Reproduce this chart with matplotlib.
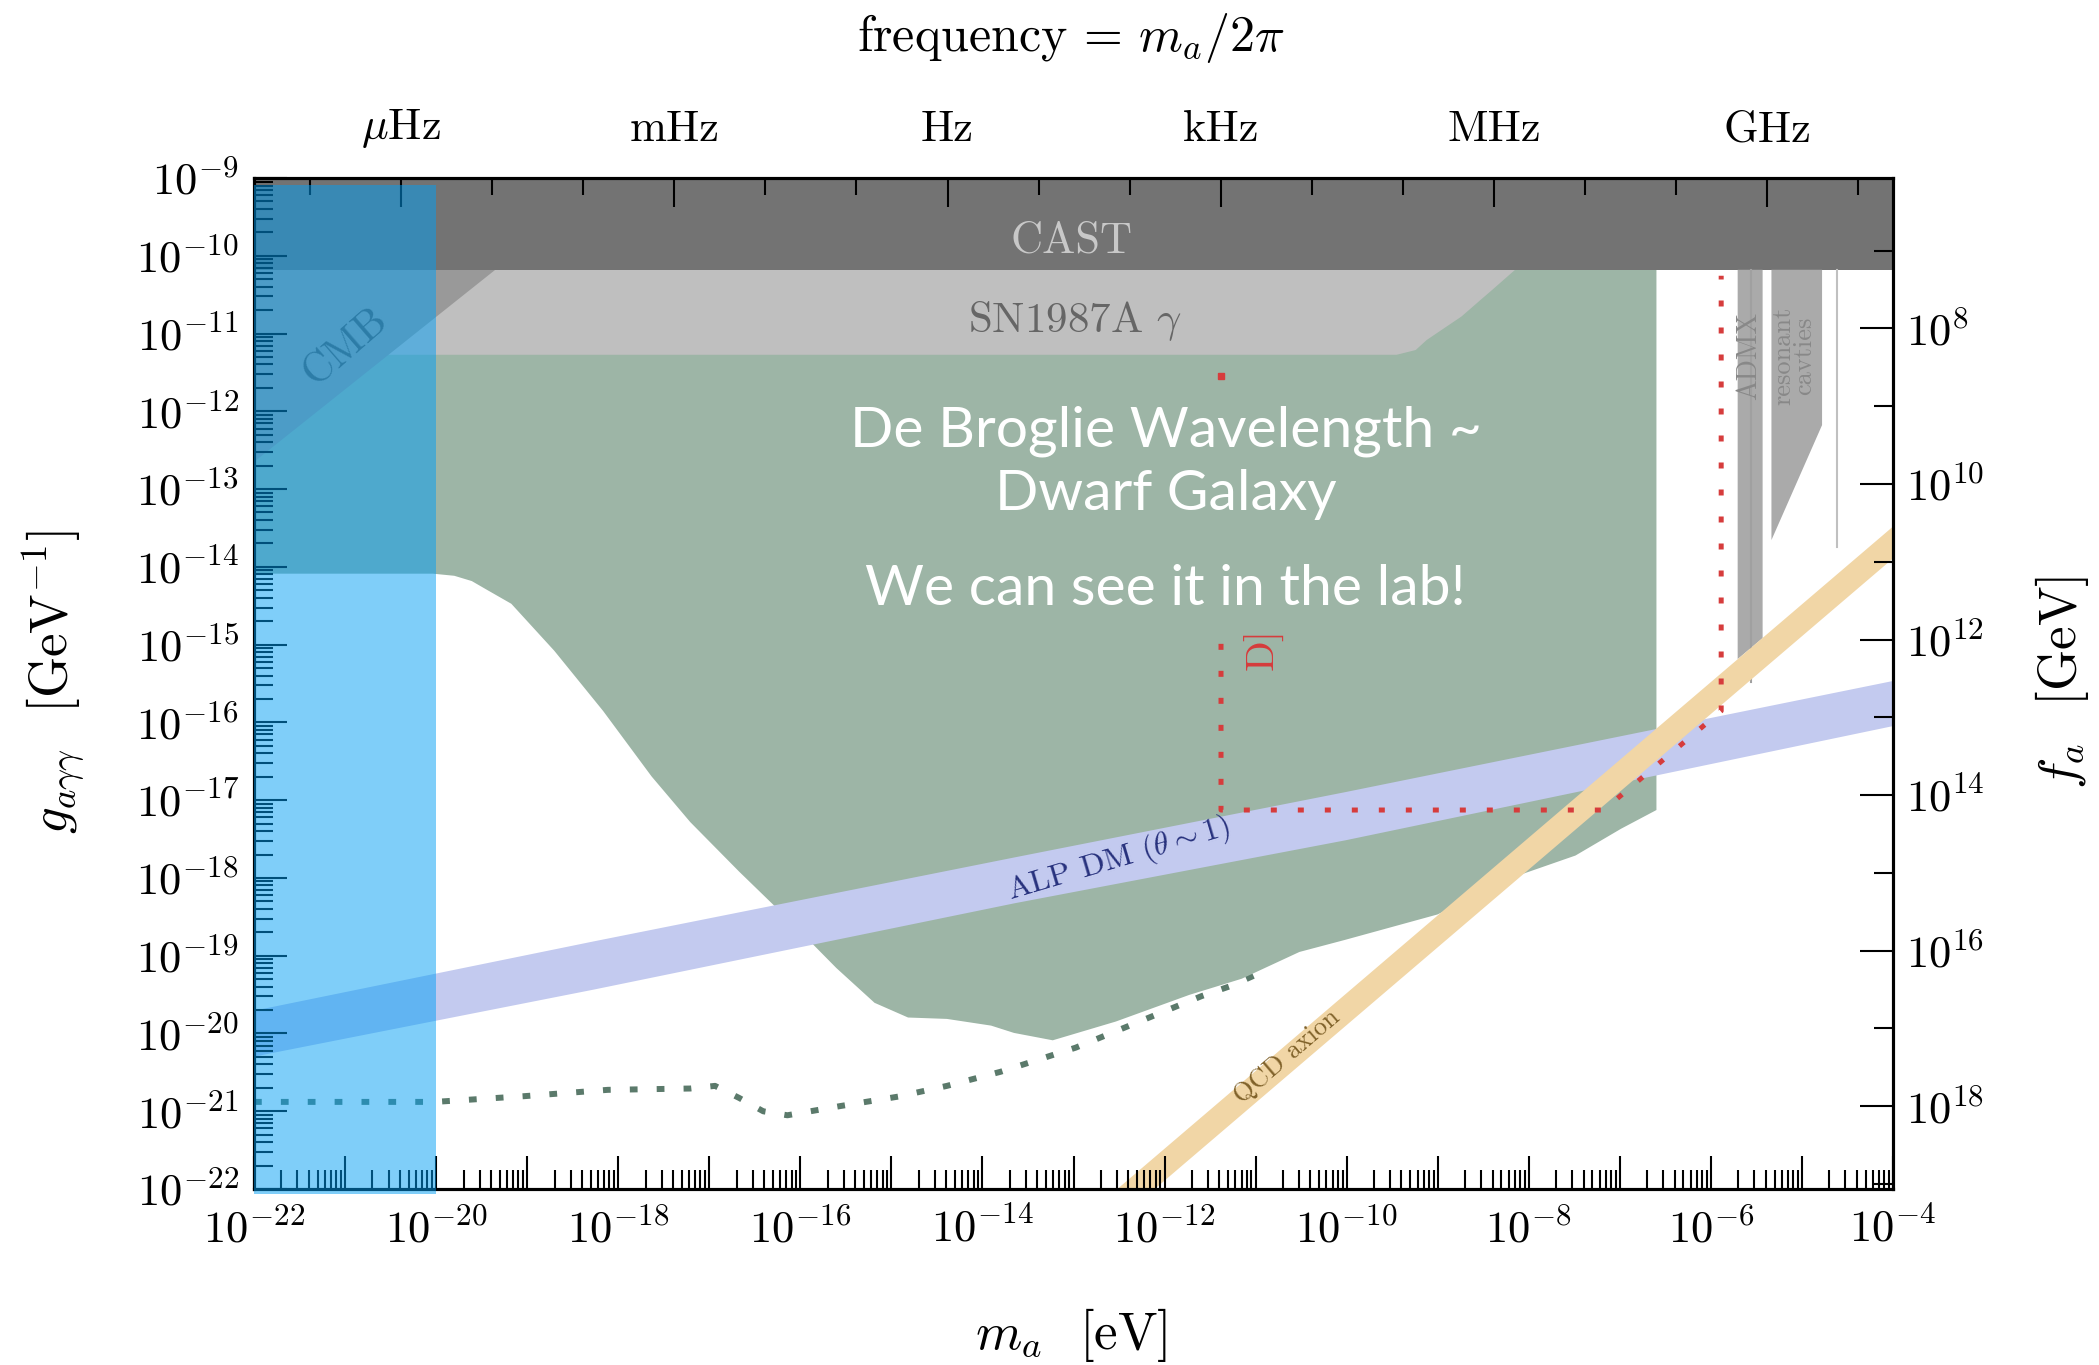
import numpy as np
import matplotlib
matplotlib.use("Agg")
import matplotlib.pyplot as plt
from matplotlib.patches import Rectangle
from matplotlib.transforms import blended_transform_factory
from matplotlib.ticker import FixedLocator, LogLocator, NullFormatter

plt.rcParams['font.family'] = 'serif'
plt.rcParams['font.serif'] = ['cmr10']
plt.rcParams['mathtext.fontset'] = 'cm'
plt.rcParams['axes.formatter.use_mathtext'] = True

# all values are log10 (m_a in eV, g in GeV^-1)
cast_logg = -10.18

sn_logm = [-22, -9.451, -9.242, -9.121, -8.738, -8.525, -8.40, -8.15]
sn_logg = [-11.273, -11.273, -11.212, -11.083, -10.78, -10.563, -10.437, -10.18]

cmb_logm = [-22, -19.35]
cmb_logg = [-12.65, -10.18]

# lower edge of the dwarf galaxy region, right to left
dg_logm = [-6.598, -6.987, -7.487, -8.120, -9.003, -10.019, -10.519, -11.152,
           -11.726, -12.536, -13.228, -13.654, -13.905, -14.390, -14.817,
           -15.185, -15.605, -16.142, -16.672, -17.209, -17.633, -18.166,
           -18.703, -19.174, -19.450, -19.608, -19.800, -20.034, -22.0]
dg_logg = [-17.127, -17.368, -17.712, -17.970, -18.470, -18.797, -18.952, -19.296,
           -19.503, -19.847, -20.088, -19.993, -19.899, -19.813, -19.795,
           -19.606, -19.158, -18.521, -17.919, -17.282, -16.696, -15.853,
           -15.078, -14.475, -14.290, -14.183, -14.115, -14.088, -14.088]

proj_logm = [-22, -20.013, -19.027, -18.114, -17.209, -16.937, -16.672, -16.407,
             -16.142, -15.553, -14.920, -14.390, -13.802, -12.977, -12.168,
             -11.594, -11.277, -10.961]
proj_logg = [-20.880, -20.880, -20.806, -20.725, -20.708, -20.674, -20.829, -21.001,
             -21.052, -20.932, -20.811, -20.674, -20.493, -20.183, -19.795,
             -19.520, -19.391, -19.227]

alp_logm = [-22, -18.276, -13.654, -10.019, -4]
alp_top = [-19.70, -18.81, -17.73, -16.89, -15.46]
alp_bot = [-20.29, -19.43, -18.32, -17.51, -16.04]

qcd_logm = [-13.5, -4]
qcd_top = [-22.97, -13.47]
qcd_bot = [-23.38, -13.88]

red_logm = [-11.38, -11.38, -7.178, -5.887, -5.887]
red_logg = [-14.99, -17.127, -17.127, -15.853, -10.257]
red_dot = (-11.38, -11.548)

admx_logm = [-5.706, -5.432, -5.432, -5.706]
admx_logg = [cast_logg, cast_logg, -14.916, -15.186]
cav_logm = [-5.335, -4.779, -4.779, -5.335]
cav_logg = [cast_logg, cast_logg, -12.177, -13.656]

freq_ticks = [1e-6, 1e-3, 1.0, 1e3, 1e6, 1e9]
freq_labels = [r'$\mu$Hz', 'mHz', 'Hz', 'kHz', 'MHz', 'GHz']

HZ_PER_EV = 2.417989e14
FA_G = 1.0 / 137.036 / (2 * np.pi)


def p(v):
    return 10.0 ** np.asarray(v, dtype=float)


fig = plt.figure(figsize=(20.99, 13.65), dpi=100)
ax = fig.add_axes([0.12101, 0.12894, 0.78085, 0.74066])
ax.set_xscale('log')
ax.set_yscale('log')

# regions
ax.fill(p([-22, -6.598] + dg_logm), p([cast_logg, cast_logg] + dg_logg),
        color='#9db5a6', lw=0, zorder=1)
ax.plot(p(proj_logm), p(proj_logg), color='#5b7a6b', lw=4.3,
        linestyle=(0, (1.3, 3.2)), zorder=0.9)
ax.fill(p([-22] + sn_logm[::-1]), p([cast_logg] + sn_logg[::-1]),
        color='#bfbfbf', lw=0, zorder=2)
ax.fill(p(cmb_logm + [-22]), p(cmb_logg + [cast_logg]), color='#999999', lw=0, zorder=2.1)
ax.fill(p([-22, -4, -4, -22]), p([cast_logg, cast_logg, -9, -9]),
        color='#737373', lw=0, zorder=3)
ax.fill(p(admx_logm), p(admx_logg), color='#aaaaaa', lw=0, zorder=3)
ax.plot(p([-5.559, -5.559]), p([cast_logg, -15.48]), color='#a0a0a0', lw=1.5, zorder=3)
ax.fill(p(cav_logm), p(cav_logg), color='#aaaaaa', lw=0, zorder=3)
ax.plot(p([-4.612, -4.612]), p([cast_logg, -13.742]), color='#c0c0c0', lw=1.5, zorder=3)

ax.fill_between(p(alp_logm), p(alp_bot), p(alp_top), color='#c3caef', lw=0, zorder=4)
ax.fill_between(p(qcd_logm), p(qcd_bot), p(qcd_top), color='#f1d6a6', lw=0, zorder=5)

ax.plot(p(red_logm), p(red_logg), color='#d63c3c', lw=3.6,
        linestyle=(0, (1.2, 4.2)), zorder=6)
ax.plot(p(red_dot[0]), p(red_dot[1]), 's', color='#d63c3c', ms=4.3, zorder=6)

# labels inside
ax.text(p(-13.02), p(-9.81), 'CAST', color='#c8c8c8', fontsize=32,
        ha='center', va='center', zorder=7)
ax.text(p(-12.977), p(-10.842), r'SN1987A $\gamma$', color='#666666', fontsize=31,
        ha='center', va='center', zorder=7)
ax.text(p(-20.99), p(-11.166), 'CMB', color='#5a5a5a', fontsize=30, rotation=41,
        ha='center', va='center', zorder=7)
ax.text(p(-12.506), p(-17.764), r'ALP DM ($\theta\sim1$)', color='#27317d', fontsize=23,
        rotation=16.5, ha='center', va='center', zorder=7)
ax.text(p(-10.652), p(-20.295), 'QCD axion', color='#80622a', fontsize=19,
        rotation=40.5, ha='center', va='center', zorder=7)
ax.text(p(-10.917), p(-15.06), 'D]', color='#d63c3c', fontsize=29, rotation=90,
        ha='center', va='center', zorder=7)
ax.text(p(-5.58), p(-11.29), 'ADMX', color='#888888', fontsize=20, rotation=90,
        ha='center', va='center', zorder=7)
ax.text(p(-5.088), p(-11.29), 'resonant\ncavties', color='#888888', fontsize=19,
        rotation=90, ha='center', va='center', linespacing=0.8, zorder=7)

big = dict(color='white', fontsize=41, family='Lato',
           ha='center', va='baseline', zorder=8)
ax.text(p(-11.99), p(-12.456), 'De Broglie Wavelength ~', **big)
ax.text(p(-11.99), p(-13.27), 'Dwarf Galaxy', **big)
ax.text(p(-11.99), p(-14.49), 'We can see it in the lab!', **big)

# axes & ticks
ax.set_xlim(1e-22, 1e-4)
ax.set_ylim(1e-22, 1e-9)
xt = 10.0 ** np.arange(-22, -3)
ax.set_xticks(xt, [r'$10^{%d}$' % k if k % 2 == 0 else '' for k in range(-22, -3)])
yt = 10.0 ** np.arange(-22, -8)
ax.set_yticks(yt, [r'$10^{%d}$' % k for k in range(-22, -8)])
for a in (ax.xaxis, ax.yaxis):
    a.set_minor_locator(LogLocator(base=10, subs=np.arange(2, 10), numticks=300))
    a.set_minor_formatter(NullFormatter())
ax.tick_params(which='both', direction='in', top=False, right=False, width=1.5)
ax.tick_params(which='major', length=24)
ax.tick_params(which='minor', length=14)
ax.tick_params(axis='x', labelsize=32, pad=14)
ax.tick_params(axis='y', labelsize=32, pad=11)
ax.xaxis.set_zorder(20)
ax.yaxis.set_zorder(20)

axr = ax.twinx()
axr.set_yscale('log')
axr.set_ylim(FA_G / 1e-22, FA_G / 1e-9)
axr.yaxis.set_major_locator(FixedLocator(10.0 ** np.arange(8, 19, 2)))
axr.yaxis.set_ticklabels([r'$10^{%d}$' % k for k in range(8, 19, 2)])
axr.yaxis.set_minor_locator(FixedLocator(10.0 ** np.arange(7, 20, 2)))
axr.yaxis.set_minor_formatter(NullFormatter())
axr.tick_params(which='both', direction='in', width=1.5, labelsize=32, pad=9)
axr.tick_params(which='major', length=24)
axr.tick_params(which='minor', length=14)

axt = ax.twiny()
axt.set_xscale('log')
axt.set_xlim(1e-22 * HZ_PER_EV, 1e-4 * HZ_PER_EV)
axt.xaxis.set_major_locator(FixedLocator(freq_ticks))
axt.xaxis.set_ticklabels(freq_labels)
axt.xaxis.set_minor_locator(FixedLocator(10.0 ** np.arange(-8, 11)))
axt.xaxis.set_minor_formatter(NullFormatter())
axt.tick_params(which='both', direction='in', width=1.5, labelsize=32, pad=20)
axt.tick_params(which='major', length=21)
axt.tick_params(which='minor', length=12)

for a in (ax, axr, axt):
    for s in a.spines.values():
        s.set_linewidth(2.2)
        s.set_zorder(20)

fig.text(0.5103, 0.022, r'$m_a$  [eV]', fontsize=38, ha='center', va='center')
fig.text(0.0255, 0.50, r'$g_{a\gamma\gamma}$  [GeV$^{-1}$]', fontsize=38,
         rotation=90, ha='center', va='center')
fig.text(0.9822, 0.50, r'$f_a$  [GeV]', fontsize=38, rotation=90,
         ha='center', va='center')
fig.text(0.5103, 0.9725, r'frequency = $m_a/2\pi$', fontsize=36,
         ha='center', va='center')

# fuzzy dark matter band on top of everything
band = Rectangle((1e-22, -0.005), 1e-20 - 1e-22, 0.998,
                 transform=blended_transform_factory(ax.transData, ax.transAxes),
                 facecolor='#009ff5', alpha=0.5, lw=0, zorder=10)
fig.add_artist(band)

fig.savefig('out.png', dpi=100)
